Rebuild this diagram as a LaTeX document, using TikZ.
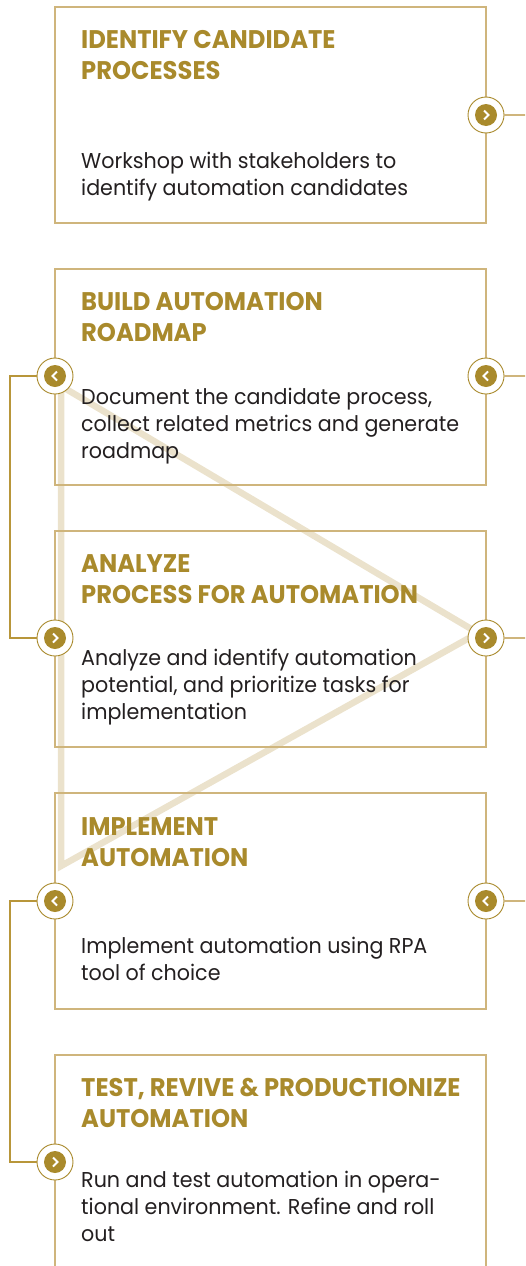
\documentclass[tikz,border=0pt]{standalone}
\usepackage{fontspec}
\setmainfont{Poppins}
\newfontfamily\titlefont[FakeStretch=0.95]{Poppins}
\newfontfamily\bodyfont[FakeStretch=0.96]{Poppins}
\definecolor{gold}{HTML}{A98A2C}
\definecolor{boxline}{HTML}{CFB57C}
\definecolor{loopline}{HTML}{B8963A}
\definecolor{band}{HTML}{EBE2CC}
\definecolor{bodytext}{HTML}{231F20}
\tikzset{
  box/.style={draw=boxline, line width=1.1pt, minimum width=431pt, minimum height=216pt, inner sep=0pt},
  circ/.style={circle, draw=gold, line width=0.9pt, fill=white, minimum size=36pt, inner sep=0pt},
  cright/.style={circ, path picture={
      \fill[gold] (path picture bounding box.center) circle (11pt);
      \draw[white, line width=2pt, line join=miter] ([xshift=-2pt,yshift=4.5pt]path picture bounding box.center) -- ([xshift=2.5pt]path picture bounding box.center) -- ([xshift=-2pt,yshift=-4.5pt]path picture bounding box.center);}},
  cleft/.style={circ, path picture={
      \fill[gold] (path picture bounding box.center) circle (11pt);
      \draw[white, line width=2pt, line join=miter] ([xshift=2pt,yshift=4.5pt]path picture bounding box.center) -- ([xshift=-2.5pt]path picture bounding box.center) -- ([xshift=2pt,yshift=-4.5pt]path picture bounding box.center);}},
  ttl/.style={anchor=base west, inner sep=0pt, align=left, text=gold, font=\titlefont\bfseries\fontsize{25.5}{31}\selectfont},
  bdy/.style={anchor=base west, inner sep=0pt, align=left, text=bodytext, font=\bodyfont\fontsize{21.5}{27}\selectfont},
  loop/.style={draw=loopline, line width=1.1pt},
  exitline/.style={draw=boxline, line width=1.1pt},
  bandline/.style={draw=band, line width=6.5pt, line join=miter}
}
\begin{document}
\begin{tikzpicture}[x=1pt,y=-1pt]
\useasboundingbox (0,0) rectangle (525,1266);
\clip (0,0) rectangle (525,1266);
% decorative band triangle
\coordinate (t1) at (61,386);
\coordinate (t2) at (478,633);
\coordinate (t3) at (61,866);
\draw[bandline] (t1) -- (t2) -- (t3) -- cycle;
% boxes
\node[box] (b1) at (270.5,115) {};
\node[box] (b2) at (270.5,377) {};
\node[box] (b3) at (270.5,639) {};
\node[box] (b4) at (270.5,901) {};
\node[box, minimum height=240pt] (b5) at (270.5,1175) {};
% guide coordinates
\coordinate (lx) at (10,0);
\coordinate (rx) at (530,0);
% circles
\node[cright] (c1r) at (486,115) {};
\node[cleft] (c2l) at (55,376) {};
\node[cleft] (c2r) at (486,376) {};
\node[cright] (c3l) at (55,638) {};
\node[cright] (c3r) at (486,638) {};
\node[cleft] (c4l) at (55,901) {};
\node[cleft] (c4r) at (486,901) {};
\node[cright] (c5l) at (55,1162) {};
% exit lines to the right
\draw[exitline] (c1r.east) -- (c1r.east -| rx);
\draw[exitline] (c2r.east) -- (c2r.east -| rx);
\draw[exitline] (c3r.east) -- (c3r.east -| rx);
\draw[exitline] (c4r.east) -- (c4r.east -| rx);
% loops on the left
\draw[loop] (c2l.west) -- (c2l.west -| lx) -- (c3l.west -| lx) -- (c3l.west);
\draw[loop] (c4l.west) -- (c4l.west -| lx) -- (c5l.west -| lx) -- (c5l.west);
% texts (base anchor = last line baseline)
\node[ttl] (h1) at (81,79) {IDENTIFY CANDIDATE\\PROCESSES};
\node[bdy] (d1) at (81,195) {Workshop with stakeholders to\\identify automation candidates};
\node[ttl] (h2) at (81,341) {BUILD AUTOMATION\\ROADMAP};
\node[bdy] (d2) at (81,458) {Document the candidate process,\\collect related metrics and generate\\roadmap};
\node[ttl] (h3) at (81,603) {ANALYZE\\PROCESS FOR AUTOMATION};
\node[bdy] (d3) at (81,719) {Analyze and identify automation\\potential, and prioritize tasks for\\implementation};
\node[ttl] (h4) at (81,866) {IMPLEMENT\\AUTOMATION};
\node[bdy] (d4) at (81,980) {Implement automation using RPA\\tool of choice};
\node[ttl] (h5) at (81,1127) {TEST, REVIVE \& PRODUCTIONIZE\\AUTOMATION};
\node[bdy] (d5) at (81,1241) {Run and test automation in opera-\\tional environment. Refine and roll\\out};
\end{tikzpicture}
\end{document}
